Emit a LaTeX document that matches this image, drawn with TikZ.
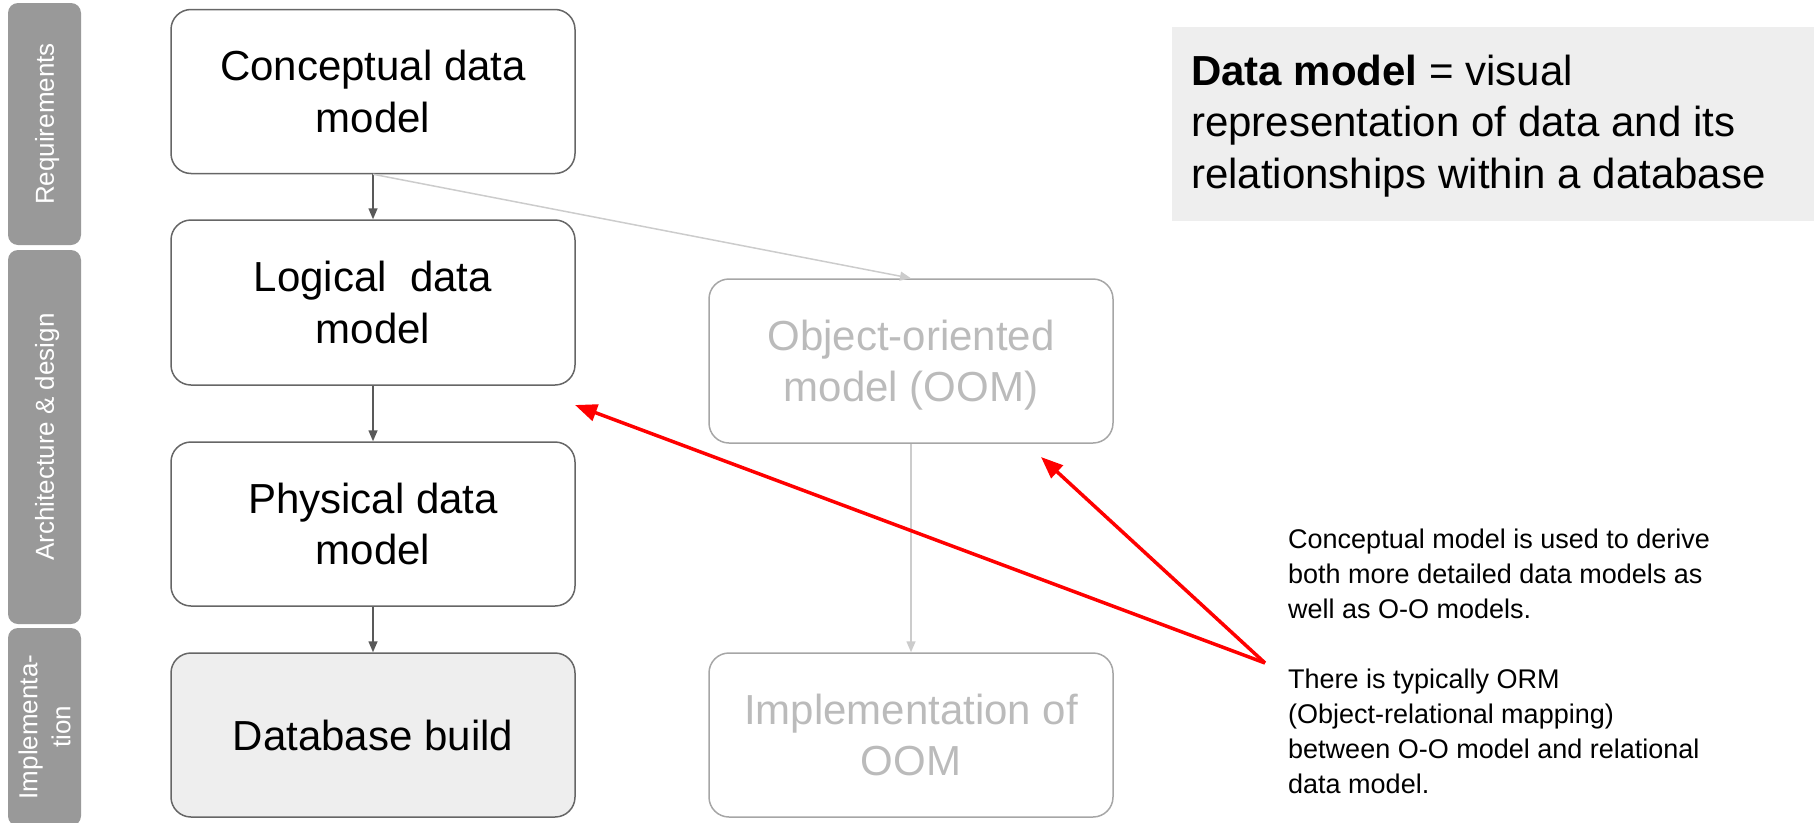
\documentclass[tikz,border=0pt]{standalone}
\usepackage{fontspec}
\setmainfont{Liberation Sans}
\usetikzlibrary{arrows.meta}
\definecolor{boxline}{HTML}{666666}
\definecolor{arrowgray}{HTML}{595959}
\definecolor{lightline}{HTML}{CCCCCC}
\definecolor{oomline}{HTML}{A6A6A6}
\definecolor{oomtext}{HTML}{BBBBBB}
\definecolor{tabgray}{HTML}{999999}
\definecolor{panel}{HTML}{EEEEEE}
\definecolor{redline}{HTML}{FF0000}
\begin{document}
\begin{tikzpicture}[x=1pt,y=-1pt,
  model/.style={draw=boxline, line width=1.5pt, rounded corners=20pt,
    minimum width=404pt, minimum height=164pt, align=center,
    font=\fontsize{42}{51.5}\selectfont, text depth=0pt, inner sep=0pt},
  oomstyle/.style={model, draw=oomline, text=oomtext},
  tabstyle/.style={fill=tabgray, rounded corners=10pt, rotate=90,
    minimum height=73pt, text=white, align=center,
    font=\fontsize{26}{33}\selectfont, text depth=0pt, inner sep=0pt},
  darrow/.style={draw=arrowgray, line width=1.5pt, -{Triangle[length=11pt,width=9pt]}},
  larrow/.style={draw=lightline, line width=1.5pt, -{Triangle[length=11pt,width=9pt]}},
  redarrow/.style={draw=redline, line width=3.5pt, -{Triangle[length=22pt,width=17pt]}},
  notetext/.style={anchor=north west, inner sep=0pt, align=left}
]
\useasboundingbox (0,0) rectangle (1814,822);

% side tabs
\node[tabstyle, minimum width=242pt] (tabreq) at (44.5,124) {Requirements};
\node[tabstyle, minimum width=374pt] (tabarch) at (44.5,437) {Architecture \& design};
\node[tabstyle, minimum width=198pt] (tabimpl) at (44.5,727) {Implementa-\\tion};

% model boxes
\node[model] (concept) at (373,91.5) {Conceptual data\\model};
\node[model, minimum height=165pt] (logical) at (373,302.5) {Logical~ data\\model};
\node[model] (physical) at (373,524) {Physical data\\model};
\node[model, fill=panel] (dbbuild) at (373,735) {Database build};
\node[oomstyle] (oom) at (911,361) {Object-oriented\\model (OOM)};
\node[oomstyle] (implOOM) at (911,735) {Implementation of\\OOM};

% definition panel
\node[fill=panel, minimum width=642pt, minimum height=194pt, inner sep=0pt, anchor=north west] (dmpanel) at (1172,27) {};
\node[notetext, font=\fontsize{42}{51.5}\selectfont] (dmtext) at (1191,54.5)
  {\textbf{Data model} = visual\\representation of data and its\\relationships within a database};

% note
\node[notetext, font=\fontsize{27}{35}\selectfont] (note) at (1288,528.5)
  {Conceptual model is used to derive\\both more detailed data models as\\well as O-O models.\\[35pt]There is typically ORM\\(Object-relational mapping)\\between O-O model and relational\\data model.};

% connectors
\draw[darrow] (concept.south) -- (logical.north);
\draw[darrow] (logical.south) -- (physical.north);
\draw[darrow] (physical.south) -- (dbbuild.north);
\draw[larrow] (concept.south) -- (oom.north);
\draw[larrow] (oom.south) -- (implOOM.north);

\coordinate (apex) at (1265,663);
\coordinate (tipL) at (575,405);
\coordinate (tipO) at (1041,457);
\draw[redarrow] (apex) -- (tipL);
\draw[redarrow] (apex) -- (tipO);
\end{tikzpicture}
\end{document}
